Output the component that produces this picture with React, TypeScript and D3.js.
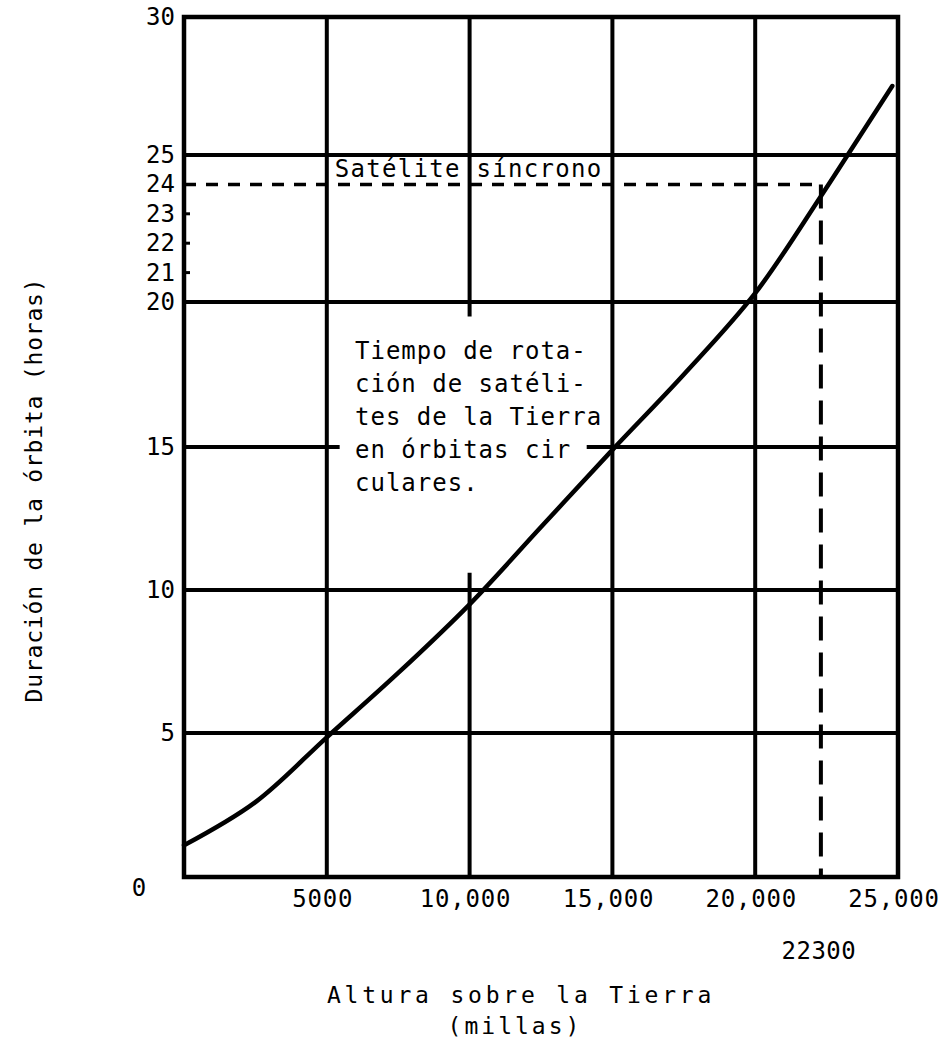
import React, { useEffect, useRef } from 'react';
import * as d3 from 'd3';

// altitude above the earth (miles) vs orbit period (hours)
const altitudes = [0, 2500, 5000, 7500, 10000, 12500, 15000, 17500, 20000, 22300, 23300, 24800];
const hours = [1.1, 2.6, 4.85, 7.1, 9.5, 12.2, 14.9, 17.5, 20.3, 23.6, 25.1, 27.5];

const yTicks = [0, 5, 10, 15, 20, 21, 22, 23, 24, 25, 30];
const yGrid = [5, 10, 15, 20, 25];
const xTicks = [5000, 10000, 15000, 20000, 25000];
const xTickLabels = ['5000', '10,000', '15,000', '20,000', '25,000'];
const xGrid = [5000, 10000, 15000, 20000];

const syncAltitude = 22300;
const syncHours = 24;

const noteLines = ['Tiempo de rota-', 'ción de satéli-', 'tes de la Tierra', 'en órbitas cir', 'culares.'];

const FONT = '"DejaVu Sans Mono", monospace';

const App = () => {
  const chartRef = useRef(null);

  useEffect(() => {
    const width = 943;
    const height = 1050;

    const svg = d3.select(chartRef.current)
      .attr('width', width)
      .attr('height', height);
    svg.selectAll('*').remove();

    svg.append('rect').attr('width', width).attr('height', height).attr('fill', '#fff');

    const x = d3.scaleLinear().domain([0, 25000]).range([184, 898]);
    // the printed grid is slightly uneven, the top cell is a bit shorter
    const y = d3.scaleLinear()
      .domain([0, 5, 10, 15, 20, 25, 30])
      .range([877, 733, 590, 447, 302, 155, 17]);

    const g = svg.append('g');

    // horizontal grid lines (the 15 line is broken where the note sits)
    yGrid.forEach(v => {
      const segs = v === 15 ? [[0, 5450], [14100, 25000]] : [[0, 25000]];
      segs.forEach(s => {
        g.append('line')
          .attr('x1', x(s[0])).attr('x2', x(s[1]))
          .attr('y1', y(v)).attr('y2', y(v))
          .attr('stroke', '#000').attr('stroke-width', 4);
      });
    });

    // vertical grid lines (the 10,000 line is broken behind the note)
    xGrid.forEach(v => {
      const segs = v === 10000 ? [[30, 19.5], [10.6, 0]] : [[30, 0]];
      segs.forEach(s => {
        g.append('line')
          .attr('x1', x(v)).attr('x2', x(v))
          .attr('y1', y(s[0])).attr('y2', y(s[1]))
          .attr('stroke', '#000').attr('stroke-width', 4);
      });
    });

    // frame
    g.append('rect')
      .attr('x', x(0)).attr('y', y(30))
      .attr('width', x(25000) - x(0)).attr('height', y(0) - y(30))
      .attr('fill', 'none').attr('stroke', '#000').attr('stroke-width', 4.5);

    // little ticks for 21, 22, 23
    [21, 22, 23].forEach(v => {
      g.append('line')
        .attr('x1', x(0)).attr('x2', x(0) + 6)
        .attr('y1', y(v)).attr('y2', y(v))
        .attr('stroke', '#000').attr('stroke-width', 3);
    });

    // synchronous satellite dashed guides
    g.append('line')
      .attr('x1', x(0)).attr('x2', x(syncAltitude))
      .attr('y1', y(syncHours)).attr('y2', y(syncHours))
      .attr('stroke', '#000').attr('stroke-width', 3.5)
      .attr('stroke-dasharray', '12 10');
    g.append('line')
      .attr('x1', x(syncAltitude)).attr('x2', x(syncAltitude))
      .attr('y1', y(syncHours)).attr('y2', y(0))
      .attr('stroke', '#000').attr('stroke-width', 4)
      .attr('stroke-dasharray', '24 12');

    // curve
    const line = d3.line()
      .x((d, i) => x(altitudes[i]))
      .y(d => y(d))
      .curve(d3.curveCatmullRom.alpha(0.5));
    g.append('path')
      .datum(hours)
      .attr('d', line)
      .attr('fill', 'none')
      .attr('stroke', '#000')
      .attr('stroke-width', 4.5)
      .attr('stroke-linecap', 'round');

    // y tick labels
    yTicks.forEach(v => {
      const t = svg.append('text')
        .attr('font-family', FONT)
        .attr('font-size', 24)
        .attr('fill', '#000')
        .text(String(v));
      if (v === 0) {
        t.attr('x', 139).attr('y', y(0) + 19).attr('text-anchor', 'middle');
      } else {
        t.attr('x', 175).attr('y', y(v) + 8).attr('text-anchor', 'end');
      }
    });

    // x tick labels
    xTicks.forEach((v, i) => {
      svg.append('text')
        .attr('x', x(v) - 4)
        .attr('y', y(0) + 30)
        .attr('text-anchor', 'middle')
        .attr('font-family', FONT)
        .attr('font-size', 24)
        .attr('letter-spacing', 0.8)
        .attr('fill', '#000')
        .text(xTickLabels[i]);
    });

    svg.append('text')
      .attr('x', x(syncAltitude) - 2)
      .attr('y', y(0) + 82)
      .attr('text-anchor', 'middle')
      .attr('font-family', FONT)
      .attr('font-size', 24)
      .attr('letter-spacing', 0.5)
      .attr('fill', '#000')
      .text(String(syncAltitude));

    // "Satélite síncrono" label
    svg.append('text')
      .attr('x', x(5000) + 8)
      .attr('y', y(syncHours) - 7)
      .attr('font-family', FONT)
      .attr('font-size', 24)
      .attr('letter-spacing', 1.3)
      .attr('fill', '#000')
      .text('Satélite síncrono');

    // note block
    noteLines.forEach((s, i) => {
      svg.append('text')
        .attr('x', 355)
        .attr('y', 359 + i * 33)
        .attr('font-family', FONT)
        .attr('font-size', 24)
        .attr('letter-spacing', 1)
        .attr('fill', '#000')
        .text(s);
    });

    // axis titles
    svg.append('text')
      .attr('x', 521)
      .attr('y', 1003)
      .attr('text-anchor', 'middle')
      .attr('font-family', FONT)
      .attr('font-size', 23)
      .attr('letter-spacing', 3.8)
      .attr('fill', '#000')
      .text('Altura sobre la Tierra');
    svg.append('text')
      .attr('x', 515)
      .attr('y', 1034)
      .attr('text-anchor', 'middle')
      .attr('font-family', FONT)
      .attr('font-size', 23)
      .attr('letter-spacing', 3)
      .attr('fill', '#000')
      .text('(millas)');

    svg.append('text')
      .attr('transform', 'translate(42,490) rotate(-90)')
      .attr('text-anchor', 'middle')
      .attr('font-family', FONT)
      .attr('font-size', 23)
      .attr('letter-spacing', 0.8)
      .attr('fill', '#000')
      .text('Duración de la órbita (horas)');
  }, []);

  return (
    <svg ref={chartRef} style={{ position: 'absolute', left: 0, top: 0, display: 'block' }}></svg>
  );
};

export default App;
